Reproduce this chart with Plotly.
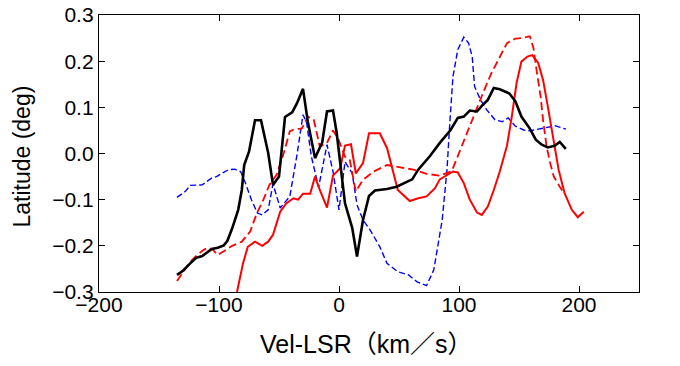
import plotly.graph_objects as go

# velocity (km/s) and latitude (deg)
black_vel = [-135, -130, -124, -119, -114, -110, -106, -101, -96, -93,
             -89, -84, -81, -79, -75, -70, -65, -59, -55, -50,
             -45, -39, -35, -30, -26, -20, -14, -10, -5, -2,
             5, 11, 15, 20, 25, 30, 40, 48, 55, 61,
             66, 76, 84, 93, 99, 104, 109, 115, 119, 124,
             129, 134, 142, 147, 152, 159, 164, 169, 174, 180,
             184, 189]
black_lat = [-0.263, -0.254, -0.238, -0.226, -0.222, -0.215, -0.207, -0.204, -0.199, -0.189,
             -0.162, -0.122, -0.079, -0.025, 0.004, 0.072, 0.072, 0.001, -0.068, -0.050,
             0.079, 0.089, 0.109, 0.140, 0.069, -0.010, 0.024, 0.091, 0.093, 0.046,
             -0.108, -0.161, -0.223, -0.144, -0.092, -0.080, -0.077, -0.072, -0.064, -0.056,
             -0.035, -0.005, 0.023, 0.051, 0.077, 0.080, 0.093, 0.091, 0.103, 0.116,
             0.142, 0.139, 0.130, 0.113, 0.080, 0.054, 0.030, 0.019, 0.013, 0.017,
             0.025, 0.010]

blue_vel = [-135, -128, -124, -114, -106, -102, -97, -92, -87, -82,
            -78, -73, -68, -64, -59, -55, -49, -41, -35, -30,
            -27, -23, -17, -10, -5, 0, 5, 11, 15, 20,
            26, 34, 40, 49, 58, 65, 73, 79, 86, 90,
            92.5, 95, 99, 104, 108, 111, 113, 118, 123, 130,
            136, 141, 147, 154, 159, 168, 180, 189]
blue_lat = [-0.095, -0.082, -0.069, -0.068, -0.053, -0.050, -0.042, -0.035, -0.034, -0.039,
            -0.064, -0.100, -0.129, -0.133, -0.122, -0.066, -0.118, -0.093, -0.003, 0.084,
            0.067, -0.007, -0.073, 0.019, -0.039, -0.122, -0.018, -0.043, -0.111, -0.144,
            -0.166, -0.202, -0.238, -0.256, -0.263, -0.278, -0.286, -0.252, -0.144, -0.035,
            0.073, 0.167, 0.225, 0.252, 0.239, 0.210, 0.145, 0.116, 0.095, 0.073,
            0.069, 0.077, 0.059, 0.051, 0.049, 0.054, 0.060, 0.053]

red_vel = [-85, -80, -76, -70, -64, -59, -55, -49, -44, -38,
           -34, -30, -24, -20, -16, -10, -5, 1, 5, 10,
           14, 20, 25, 34, 40, 44, 49, 59, 66, 73,
           80, 84, 88, 95, 99, 104, 109, 115, 119, 124,
           129, 134, 140, 144, 148, 152, 157, 161, 166, 170,
           174, 179, 183, 188, 194, 199, 204]
red_lat = [-0.300, -0.238, -0.202, -0.191, -0.200, -0.191, -0.176, -0.126, -0.108, -0.097,
           -0.100, -0.087, -0.087, -0.050, -0.079, -0.117, -0.048, -0.032, 0.017, 0.020,
           -0.043, -0.021, 0.044, 0.044, 0.012, -0.028, -0.079, -0.103, -0.097, -0.093,
           -0.075, -0.056, -0.050, -0.039, -0.041, -0.064, -0.100, -0.128, -0.133, -0.115,
           -0.079, -0.039, 0.017, 0.080, 0.153, 0.199, 0.210, 0.213, 0.196, 0.160,
           0.102, 0.030, -0.035, -0.086, -0.122, -0.138, -0.126]

redd_vel = [-135, -130, -124, -119, -113, -109, -105, -101, -95, -89,
            -81, -74, -69, -63, -58, -52, -46, -41, -37, -31,
            -26, -21, -16, -10, -5, -1, 5, 9, 14, 20,
            29, 40, 51, 62, 73, 84, 94, 102, 108, 113,
            120, 127, 134, 140, 147, 152, 159, 162, 165, 168,
            170, 173, 176, 179, 184, 186]
redd_lat = [-0.276, -0.256, -0.235, -0.222, -0.209, -0.204, -0.209, -0.220, -0.210, -0.200,
            -0.191, -0.169, -0.133, -0.100, -0.068, -0.046, 0.001, 0.048, 0.053, 0.054,
            0.080, 0.073, 0.015, 0.023, 0.050, 0.034, -0.007, -0.014, -0.082, -0.057,
            -0.039, -0.025, -0.030, -0.035, -0.044, -0.048, -0.038, 0.015, 0.051, 0.088,
            0.131, 0.174, 0.210, 0.239, 0.249, 0.250, 0.254, 0.229, 0.174, 0.124,
            0.073, 0.015, -0.021, -0.050, -0.072, -0.080]

FONT = "Liberation Sans, Arial, Noto Sans CJK JP, sans-serif"

fig = go.Figure()

fig.add_trace(go.Scatter(x=blue_vel, y=blue_lat, mode="lines",
                         line=dict(color="#0000ff", width=1.4, dash="6px,3px")))
fig.add_trace(go.Scatter(x=redd_vel, y=redd_lat, mode="lines",
                         line=dict(color="#ff0000", width=1.8, dash="8px,4px")))
fig.add_trace(go.Scatter(x=red_vel, y=red_lat, mode="lines",
                         line=dict(color="#ff0000", width=2)))
fig.add_trace(go.Scatter(x=black_vel, y=black_lat, mode="lines",
                         line=dict(color="#000000", width=2.6)))

axis_style = dict(
    showline=True, linecolor="black", linewidth=1.3, mirror="ticks",
    ticks="inside", ticklen=6, tickwidth=1, tickcolor="black",
    showgrid=False, zeroline=False, automargin=False, ticklabeloverflow="allow",
    tickfont=dict(family=FONT, size=21, color="black"),
)

fig.update_layout(
    width=680, height=366,
    margin=dict(l=99, r=41, t=15, b=74),
    paper_bgcolor="white", plot_bgcolor="white",
    showlegend=False,
    xaxis=dict(axis_style, range=[-200, 250], dtick=100, tick0=0,
               ticklabelstandoff=-6),
    yaxis=dict(axis_style, range=[-0.3, 0.3], dtick=0.1, tick0=0, tickformat=".1f"),
    annotations=[
        dict(text="Vel-LSR（km／s）", xref="paper", yref="paper",
             x=0.495, y=-0.188, xanchor="center", yanchor="middle", showarrow=False,
             font=dict(family=FONT, size=25, color="black")),
        dict(text="Latitude (deg)", xref="paper", yref="paper", textangle=-90,
             x=-0.142, y=0.49, xanchor="center", yanchor="middle", showarrow=False,
             font=dict(family=FONT, size=23, color="black")),
    ],
)

# drop the default 8px body margin so the figure sits at the page corner
fig.write_html("out.html", config={"displayModeBar": False},
               post_script="document.body.style.margin='0';")
